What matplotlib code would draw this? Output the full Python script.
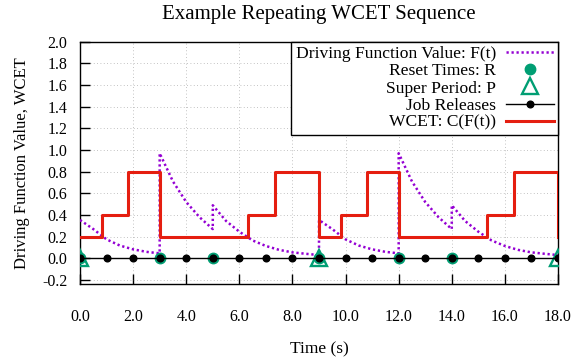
import numpy as np
import matplotlib.pyplot as plt

plt.rcParams['font.family'] = ['Liberation Serif', 'DejaVu Serif']

# driving function F(t) (one super period, repeated)
f_t = [0.0, 0.5, 1.0, 1.5, 2.0, 2.5, 3.0,
       3.0, 3.5, 4.0, 4.5, 5.0,
       5.0, 5.5, 6.0, 6.5, 7.0, 7.5, 8.0, 8.5, 9.0]
f_val = [0.354, 0.27, 0.175, 0.118, 0.083, 0.06, 0.046,
         0.97, 0.71, 0.52, 0.38, 0.27,
         0.49, 0.345, 0.246, 0.165, 0.114, 0.078, 0.055, 0.042, 0.03]

super_period = 9.0
reset_times = [0, 3, 5, 9, 12, 14]
super_periods = [0, 9, 18]
job_releases = list(range(0, 19))

# WCET steps (time the level starts, level)
wcet_t = [0.0, 0.81, 1.82, 3.0, 6.33, 7.33,
          9.0, 9.81, 10.82, 12.0, 15.33, 16.33, 18.0]
wcet_val = [0.2, 0.4, 0.8, 0.2, 0.4, 0.8,
            0.2, 0.4, 0.8, 0.2, 0.4, 0.8, 0.2]

purple = '#9400D3'
green = '#009E73'
red = '#E51E10'

fig = plt.figure(figsize=(5.74, 3.64), dpi=100)
ax = fig.add_axes([80/574, 80/364, 478/574, 242.3/364])

ft = np.concatenate([f_t, np.array(f_t) + super_period])
fv = np.concatenate([f_val, f_val])
# vertical jump at the super period boundary
ft = np.insert(ft, len(f_t), super_period)
fv = np.insert(fv, len(f_t), f_val[0])

ax.plot(ft, fv, color=purple, lw=1.8, ls=(0, (0.9, 1.1)),
        label='Driving Function Value: F(t)', zorder=3)
ax.plot(reset_times, np.zeros(len(reset_times)), 'o', color=green, ms=7.5,
        label='Reset Times: R', zorder=4)
ax.plot(super_periods, np.zeros(len(super_periods)), '^', color=green, ms=12,
        mfc='none', mew=1.7, label='Super Period: P', zorder=4)
ax.plot(job_releases, np.zeros(len(job_releases)), '-o', color='black',
        lw=1.0, ms=4.8, label='Job Releases', zorder=5)
ax.plot(wcet_t, wcet_val, color=red, lw=2.2, drawstyle='steps-post',
        label='WCET: C(F(t))', zorder=6)

ax.set_xlim(0, 18)
ax.set_ylim(-0.237, 2.0)
ax.set_xticks(np.arange(0, 19, 2))
ax.set_yticks(np.arange(-0.2, 2.01, 0.2))
ax.set_xticklabels(['%.1f' % v for v in np.arange(0, 19, 2)])
ax.set_yticklabels(['%.1f' % v for v in np.arange(-0.2, 2.01, 0.2)])
ax.tick_params(axis='x', direction='in', length=7, width=1, pad=18,
               labelsize=11.5, top=False)
ax.tick_params(axis='y', direction='in', length=7, width=1, pad=9,
               labelsize=11.5, right=False)
ax.grid(True, color='#b0b0b0', lw=0.6, ls=(0, (1, 3)))
ax.set_axisbelow(True)
for s in ax.spines.values():
    s.set_linewidth(1.0)

ax.set_title('Example Repeating WCET Sequence', fontsize=15, pad=16)
ax.set_xlabel('Time (s)', fontsize=12.5)
ax.set_ylabel('Driving Function Value, WCET', fontsize=12)
ax.xaxis.set_label_coords(0.5, -0.235)
ax.yaxis.set_label_coords(-0.105, 0.5)

leg = ax.legend(loc='upper right', markerfirst=False, fontsize=12.6,
                frameon=True, fancybox=False, framealpha=1, edgecolor='black',
                borderaxespad=0, borderpad=0.25, labelspacing=0.05,
                handlelength=2.7, handletextpad=0.6, numpoints=1)
leg.get_frame().set_linewidth(1.0)
leg.set_zorder(10)

fig.savefig('out.png', dpi=100)
